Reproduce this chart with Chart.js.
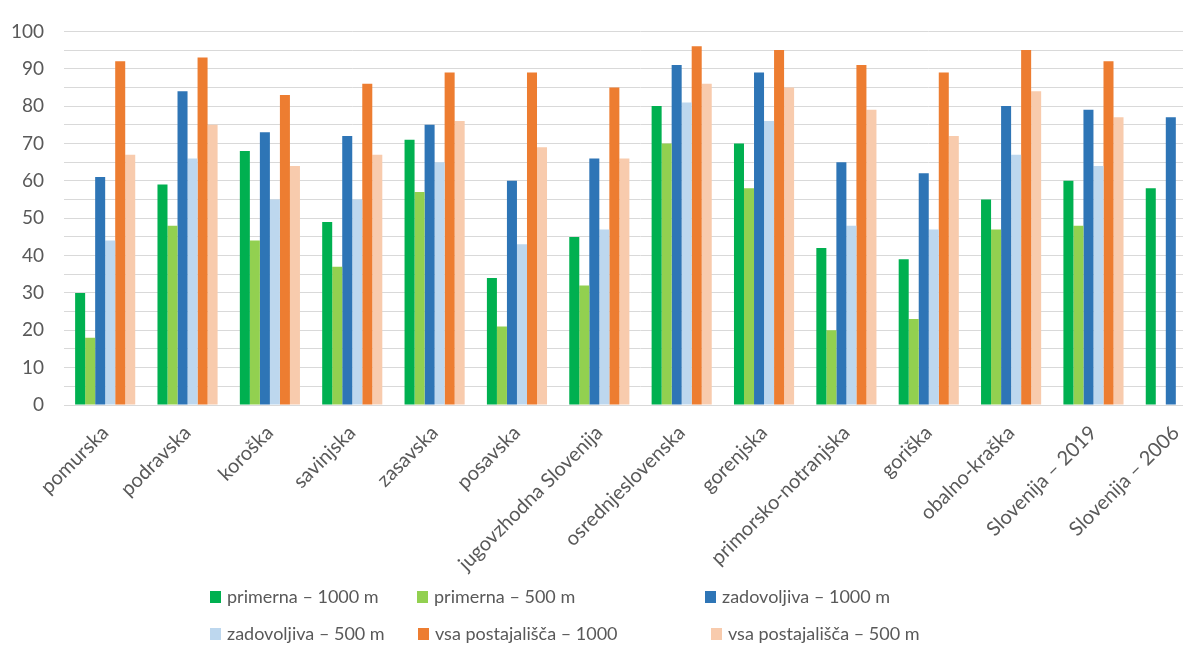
<!DOCTYPE html>
<html><head><meta charset="utf-8">
<script src="https://cdn.jsdelivr.net/npm/chart.js@4.4.0/dist/chart.umd.min.js"></script>
<style>
html,body{margin:0;padding:0;background:#fff;overflow:hidden;width:1183px;height:649px}
#wrap{position:relative;width:1230px;height:649px}
</style></head><body>
<div id="wrap"><canvas id="c" width="1230" height="649"></canvas></div>
<script>
const categories = ['pomurska','podravska','koroška','savinjska','zasavska','posavska','jugovzhodna Slovenija','osrednjeslovenska','gorenjska','primorsko-notranjska','goriška','obalno-kraška','Slovenija – 2019','Slovenija – 2006'];
const primerna1000   = [30,59,68,49,71,34,45,80,70,42,39,55,60,58];
const primerna500    = [18,48,44,37,57,21,32,70,58,20,23,47,48,null];
const zadovoljiva1000= [61,84,73,72,75,60,66,91,89,65,62,80,79,77];
const zadovoljiva500 = [44,66,55,55,65,43,47,81,76,48,47,67,64,null];
const vsa1000        = [92,93,83,86,89,89,85,96,95,91,89,95,92,null];
const vsa500         = [67,75,64,67,76,69,66,86,85,79,72,84,77,null];
const seriesLabels = ['primerna – 1000 m','primerna – 500 m','zadovoljiva – 1000 m','zadovoljiva – 500 m','vsa postajališča – 1000','vsa postajališča – 500 m'];
const yMin = 0, yMax = 100, yStep = 5, yLabelStep = 10;

const colors = ['#00B050','#92D050','#2E75B6','#BDD7EE','#ED7D31','#F8CBAD'];
const seriesData = [primerna1000, primerna500, zadovoljiva1000, zadovoljiva500, vsa1000, vsa500];

const legendPlugin = {
  id: 'gridLegend',
  afterDraw(chart) {
    const ctx = chart.ctx;
    const rowsX = [[210, 417, 705], [210, 418, 711]];
    const rowsY = [597, 634];
    ctx.save();
    ctx.font = '18px Lato';
    ctx.textBaseline = 'middle';
    ctx.textAlign = 'left';
    chart.data.datasets.forEach((ds, i) => {
      const r = Math.floor(i / 3), c = i % 3;
      const x = rowsX[r][c], y = rowsY[r];
      ctx.fillStyle = ds.backgroundColor;
      ctx.fillRect(x, y - 6, 11, 12);
      ctx.fillStyle = '#595959';
      ctx.fillText(ds.label, x + 17, y);
    });
    ctx.restore();
  }
};

new Chart(document.getElementById('c'), {
  type: 'bar',
  data: {
    labels: categories,
    datasets: seriesLabels.map((l, i) => ({
      label: l,
      data: seriesData[i],
      backgroundColor: colors[i],
      borderWidth: 0,
      categoryPercentage: 0.73,
      barPercentage: 1.0
    }))
  },
  options: {
    responsive: false,
    animation: false,
    devicePixelRatio: 1,
    layout: { padding: { left: 0, right: 13, top: 20, bottom: 69 } },
    plugins: { legend: { display: false }, tooltip: { enabled: false } },
    scales: {
      x: {
        grid: { display: false },
        border: { display: true, color: '#D9D9D9' },
        ticks: {
          color: '#595959',
          font: { family: 'Lato', size: 20 },
          minRotation: 45, maxRotation: 45,
          autoSkip: false,
          padding: 8
        },
        afterFit(scale) { scale.height = 175; }
      },
      y: {
        min: yMin, max: yMax,
        grid: { color: '#D9D9D9', drawTicks: false },
        border: { display: false },
        ticks: {
          stepSize: yStep,
          color: '#595959',
          font: { family: 'Lato', size: 19 },
          padding: 20,
          autoSkip: false,
          callback: v => (v % yLabelStep === 0 ? v : '')
        },
        afterFit(scale) { scale.width = 64; }
      }
    }
  },
  plugins: [legendPlugin]
});
</script>
</body></html>
